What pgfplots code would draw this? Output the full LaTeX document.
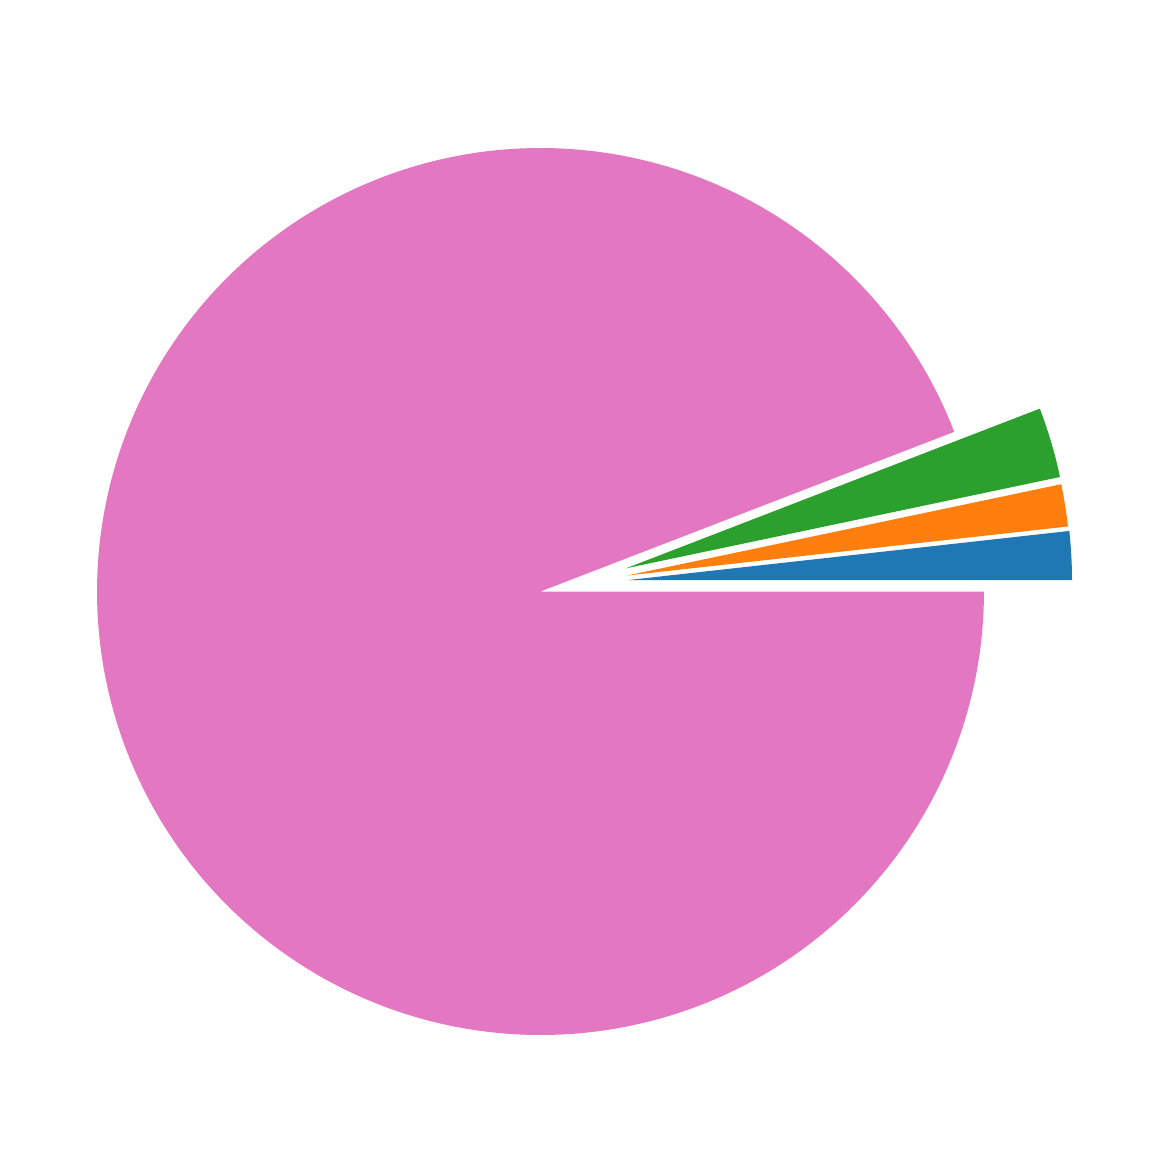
\documentclass[border=0pt]{standalone}
\usepackage{pgfplots}
\pgfplotsset{compat=1.18}
\definecolor{tabblue}{HTML}{1F77B4}
\definecolor{taborange}{HTML}{FF7F0E}
\definecolor{tabgreen}{HTML}{2CA02C}
\definecolor{tabpink}{HTML}{E377C2}
\begin{document}
\begin{tikzpicture}
\begin{axis}[
  x=0.5bp, y=0.5bp,
  xmin=0, xmax=1168, ymin=0, ymax=1168,
  y dir=reverse,
  hide axis,
  clip=false,
]
\addplot[draw=none, forget plot] coordinates {(0,0) (1168,1168)};
% shares (percent): blue 1.764, orange 1.536, green 2.561, pink 94.139
% blue wedge: 0 -- 6.35 deg, exploded centre (628.5,580)
\addplot[fill=tabblue, draw=none, domain=0:6.35, samples=40]
  ({628.5+443.5*cos(x)}, {580-443.5*sin(x)}) -- (axis cs:628.5,580) -- cycle;
% orange wedge: 6.35 -- 11.88 deg, exploded centre (627.2,575.5)
\addplot[fill=taborange, draw=none, domain=6.35:11.88, samples=40]
  ({627.2+443.5*cos(x)}, {575.5-443.5*sin(x)}) -- (axis cs:627.2,575.5) -- cycle;
% green wedge: 11.88 -- 21.1 deg, exploded centre (626,568.3)
\addplot[fill=tabgreen, draw=none, domain=11.88:21.1, samples=40]
  ({626+443.5*cos(x)}, {568.3-443.5*sin(x)}) -- (axis cs:626,568.3) -- cycle;
% pink wedge: 21.1 -- 360 deg, centre (540.5,591.5)
\addplot[fill=tabpink, draw=none, domain=21.1:360, samples=300]
  ({540.5+443.5*cos(x)}, {591.5-443.5*sin(x)}) -- (axis cs:540.5,591.5) -- cycle;
\end{axis}
\end{tikzpicture}
\end{document}
